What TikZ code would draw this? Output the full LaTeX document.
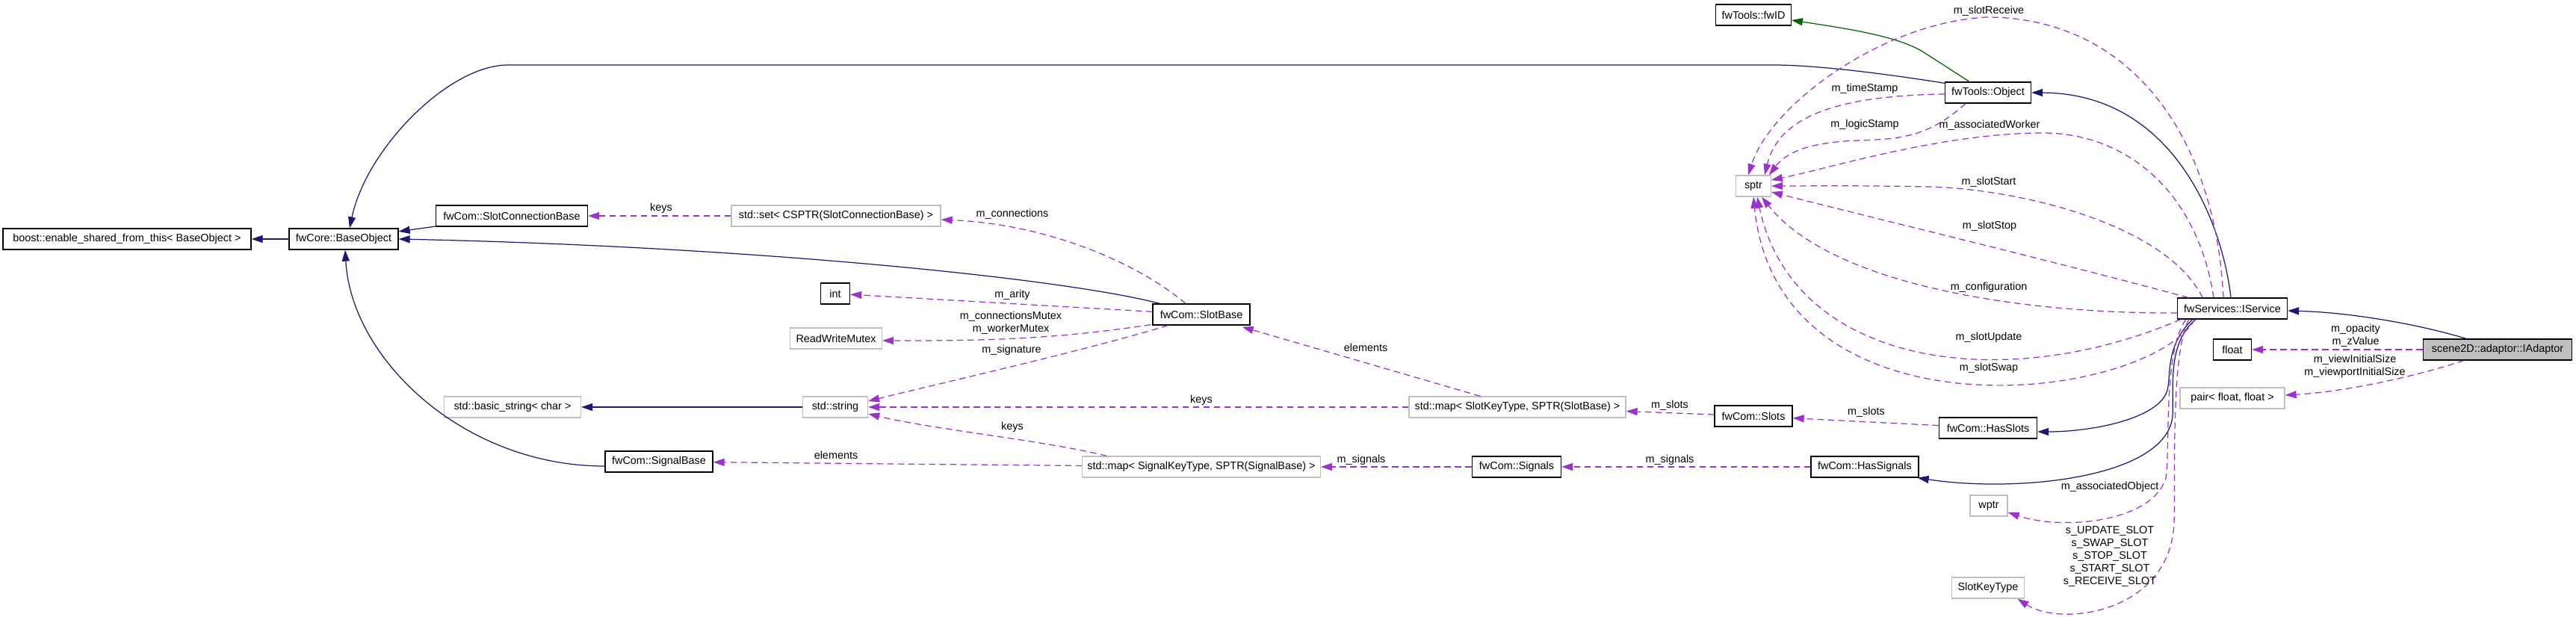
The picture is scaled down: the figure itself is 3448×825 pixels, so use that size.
\documentclass[tikz,border=0pt]{standalone}
\usepackage{fontspec}
\setmainfont{Liberation Sans}
\usetikzlibrary{arrows.meta,calc}
\definecolor{cInh}{RGB}{25,25,112}
\definecolor{cUse}{RGB}{154,50,205}
\definecolor{cProt}{RGB}{0,100,0}
\definecolor{cGrey}{RGB}{191,191,191}
\tikzset{
  cls/.style={draw=black, line width=0.75pt, inner sep=0pt, minimum height=0.56cm,
    font=\fontsize{8.2}{9.6}\selectfont},
  ext/.style={cls, draw=cGrey},
  inh/.style={draw=cInh, line width=0.7pt, -{Triangle[length=0.3cm,width=0.2cm]}},
  prot/.style={inh, draw=cProt},
  use/.style={draw=cUse, line width=0.7pt, dash pattern=on 0.17cm off 0.11cm,
    -{Triangle[length=0.3cm,width=0.2cm]}},
  lbl/.style={font=\fontsize{8.2}{9.6}\selectfont, inner sep=0pt, align=center}
}

\begin{document}
\begin{tikzpicture}[x=0.02cm, y=-0.02cm]
        \useasboundingbox (0,0) rectangle (3448,825);
        % classes
        \node[cls, minimum width=6.64cm] (boost) at (170,320) {boost::enable\_shared\_from\_this< BaseObject >};
        \node[cls, minimum width=2.92cm] (base) at (460,320) {fwCore::BaseObject};
        \node[cls, minimum width=4.06cm] (scb) at (685,289) {fwCom::SlotConnectionBase};
        \node[ext, minimum width=5.6cm] (cset) at (1119,289) {std::set< CSPTR(SlotConnectionBase) >};
        \node[cls, minimum width=0.78cm] (int) at (1118,393) {int};
        \node[ext, minimum width=2.46cm] (rwm) at (1119,453) {ReadWriteMutex};
        \node[ext, minimum width=3.66cm] (bstr) at (686,545) {std::basic\_string< char >};
        \node[ext, minimum width=1.74cm] (str) at (1118,545) {std::string};
        \node[cls, minimum width=2.88cm] (sig) at (882,618) {fwCom::SignalBase};
        \node[ext, minimum width=6.37cm] (msig) at (1608,625) {std::map< SignalKeyType, SPTR(SignalBase) >};
        \node[cls, minimum width=2.6cm] (sb) at (1608,421) {fwCom::SlotBase};
        \node[ext, minimum width=5.8cm] (mslot) at (2031,545) {std::map< SlotKeyType, SPTR(SlotBase) >};
        \node[cls, minimum width=2.08cm] (slots) at (2347,557) {fwCom::Slots};
        \node[cls, minimum width=2.62cm] (hslots) at (2661,573) {fwCom::HasSlots};
        \node[cls, minimum width=2.38cm] (sigs) at (2030,625) {fwCom::Signals};
        \node[cls, minimum width=2.88cm] (hsigs) at (2496,625) {fwCom::HasSignals};
        \node[ext, minimum width=1.0cm] (wptr) at (2662,677) {wptr};
        \node[ext, minimum width=1.95cm] (skt) at (2661,787) {SlotKeyType};
        \node[ext, minimum width=2.8cm] (pair) at (2988,533) {pair< float, float >};
        \node[cls, minimum width=1.02cm] (flt) at (2988,468) {float};
        \node[cls, fill=cGrey, minimum width=3.98cm] (iad) at (3343,468) {scene2D::adaptor::IAdaptor};
        \node[cls, minimum width=2.94cm] (isrv) at (2988,413) {fwServices::IService};
        \node[ext, minimum width=0.93cm] (sptr) at (2347,249) {sptr};
        \node[cls, minimum width=2.01cm] (fwid) at (2347,20) {fwTools::fwID};
        \node[cls, minimum width=2.3cm] (obj) at (2661,124) {fwTools::Object};
        % inheritance
        \draw[inh] (base) -- (boost);
        \draw[inh] (scb) -- (base);
        \draw[inh] ($(sb.north west)+(10,0)$) .. controls (1420,372) and (1000,330) .. (base.east);
        \draw[inh] ($(obj.north west)+(0,2)$) .. controls (2500,95) and (2420,87) .. (2374,87) -- (680,87)
          .. controls (600,87) and (490,200) .. ($(base.north)+(8,0)$);
        \draw[inh] ($(sig.west)+(0,6)$) .. controls (620,624) and (470,480) .. ($(base.south)+(2,0)$);
        \draw[inh] (str) -- (bstr);
        \draw[prot] ($(obj.north)+(-25,0)$) -- (2575,70) .. controls (2540,48) and (2470,38) .. ($(fwid.east)+(0,7)$);
        \draw[inh] ($(isrv.north)+(-2,0)$) .. controls (2975,300) and (2910,125) .. (obj.east);
        \draw[inh] ($(iad.north)+(-42,0)$) .. controls (3230,432) and (3140,418) .. ($(isrv.east)+(0,3)$);
        \draw[inh] ($(isrv.south west)+(21,0)$) .. controls (2900,460) and (2905,500) .. (2902,517)
          .. controls (2898,560) and (2800,578) .. ($(hslots.east)+(0,5)$);
        \draw[inh] ($(isrv.south west)+(25,0)$) .. controls (2900,460) and (2910,520) .. (2908,557)
          .. controls (2900,640) and (2700,660) .. ($(hsigs.south east)+(-2,0)$);
        % members
        \draw[use] (cset) -- (scb) node[lbl] at (885,279) {keys};
        \draw[use] ($(sb.north)+(-21,0)$) .. controls (1520,350) and (1400,300) .. ($(cset.east)+(0,5)$)
          node[lbl] at (1355,287) {m\_connections};
        \draw[use] (sb) -- (int) node[lbl] at (1355,395) {m\_arity};
        \draw[use] ($(sb.south west)+(-2,-1)$) .. controls (1400,456) and (1300,456) .. ($(rwm.east)+(0,3)$)
          node[lbl] at (1353,432) {m\_connectionsMutex\\m\_workerMutex};
        \draw[use] ($(sb.south west)+(21,0)$) .. controls (1450,470) and (1250,515) .. ($(str.east)+(0,-8)$)
          node[lbl] at (1354,469) {m\_signature};
        \draw[use] (mslot) -- (str) node[lbl] at (1608,536) {keys};
        \draw[use] ($(mslot.north west)+(96,0)$) -- ($(sb.south east)+(-11,2)$) node[lbl] at (1828,465) {elements};
        \draw[use] ($(msig.north west)+(33,0)$) .. controls (1400,590) and (1250,575) .. ($(str.east)+(0,9)$)
          node[lbl] at (1355,572) {keys};
        \draw[use] (msig) -- (sig) node[lbl] at (1119,609) {elements};
        \draw[use] (slots) -- (mslot) node[lbl] at (2235,543) {m\_slots};
        \draw[use] (hslots) -- (slots) node[lbl] at (2498,552) {m\_slots};
        \draw[use] (sigs) -- (msig) node[lbl] at (1822,616) {m\_signals};
        \draw[use] (hsigs) -- (sigs) node[lbl] at (2235,616) {m\_signals};
        \draw[use] (iad) -- (flt) node[lbl] at (3153,449) {m\_opacity\\m\_zValue};
        \draw[use] ($(iad.south west)+(55,0)$) .. controls (3220,508) and (3130,525) .. ($(pair.east)+(0,-4)$)
          node[lbl] at (3152,490) {m\_viewInitialSize\\m\_viewportInitialSize};
        \draw[use] ($(obj.west)+(0,2)$) .. controls (2450,128) and (2380,160) .. ($(sptr.north)+(15,0)$)
          node[lbl] at (2496,119) {m\_timeStamp};
        \draw[use] ($(obj.south west)+(28,0)$) .. controls (2580,185) and (2540,186) .. (2489,188)
          .. controls (2420,190) and (2390,205) .. ($(sptr.north east)+(-3,0)$)
          node[lbl] at (2496,167) {m\_logicStamp};
        \draw[use] ($(isrv.north)+(-12,0)$) .. controls (2965,180) and (2850,23) .. (2659,23)
          .. controls (2520,30) and (2370,140) .. ($(sptr.north)+(-7,0)$)
          node[lbl] at (2662,15) {m\_slotReceive};
        \draw[use] ($(isrv.north)+(-25,0)$) .. controls (2940,250) and (2840,178) .. (2735,178)
          .. controls (2600,178) and (2450,225) .. ($(sptr.east)+(0,-8)$)
          node[lbl] at (2663,168) {m\_associatedWorker};
        \draw[use] ($(isrv.north)+(-40,0)$) .. controls (2900,300) and (2700,252) .. (2579,250)
          .. controls (2480,248) and (2420,249) .. (sptr.east)
          node[lbl] at (2662,244) {m\_slotStart};
        \draw[use] ($(isrv.north west)+(15,0)$) .. controls (2750,350) and (2500,290) .. ($(sptr.east)+(0,8)$)
          node[lbl] at (2663,303) {m\_slotStop};
        \draw[use] ($(isrv.west)+(0,6)$) .. controls (2700,420) and (2450,380) .. ($(sptr.south)+(11,0)$)
          node[lbl] at (2662,385) {m\_configuration};
        \draw[use] ($(isrv.south west)+(5,0)$) .. controls (2680,530) and (2400,490) .. ($(sptr.south)+(5,0)$)
          node[lbl] at (2662,452) {m\_slotUpdate};
        \draw[use] ($(isrv.south west)+(24,0)$) .. controls (2870,540) and (2380,595) .. (sptr.south)
          node[lbl] at (2662,493) {m\_slotSwap};
        \draw[use] ($(isrv.south west)+(12,0)$) .. controls (2895,470) and (2905,600) .. (2899,640)
          .. controls (2880,700) and (2760,710) .. ($(wptr.east)+(0,9)$)
          node[lbl] at (2824,652) {m\_associatedObject};
        \draw[use] ($(isrv.south west)+(16,0)$) .. controls (2905,470) and (2912,650) .. (2910,700)
          .. controls (2905,820) and (2760,840) .. ($(skt.south east)+(-10,0)$)
          node[lbl] at (2824,745) {s\_UPDATE\_SLOT\\s\_SWAP\_SLOT\\s\_STOP\_SLOT\\s\_START\_SLOT\\s\_RECEIVE\_SLOT};
      \end{tikzpicture}
\end{document}
